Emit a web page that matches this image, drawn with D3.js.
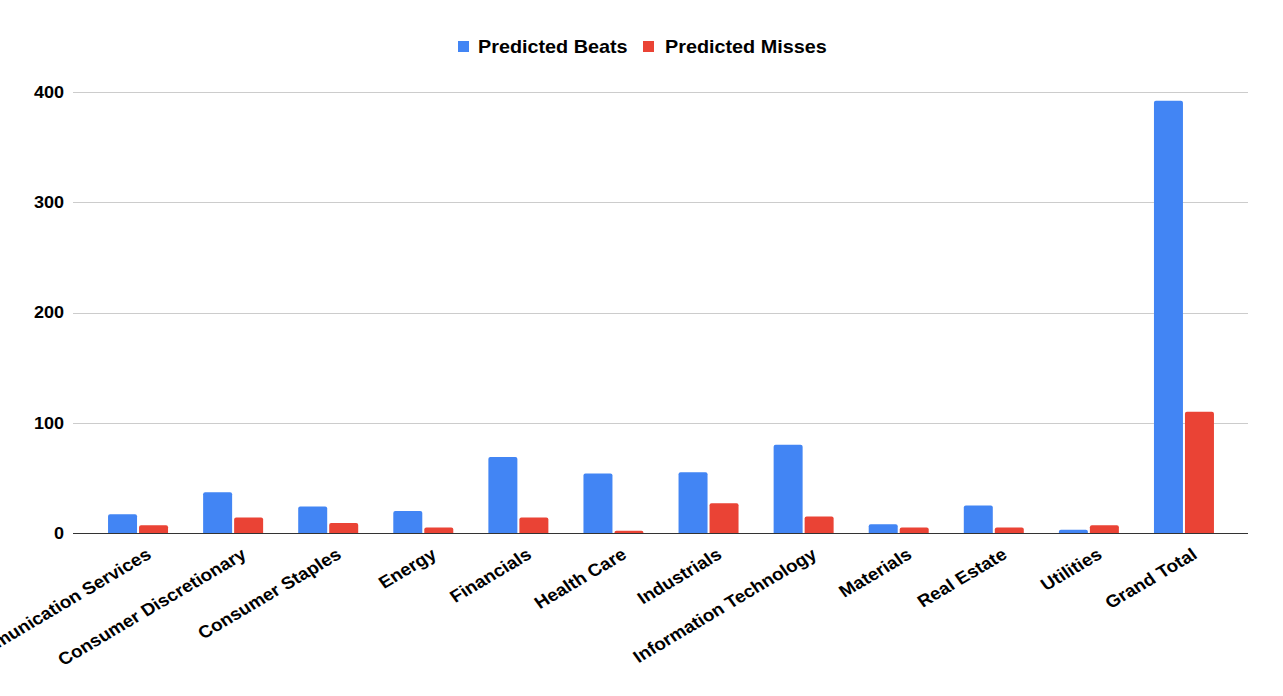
<!DOCTYPE html>
<html>
<head>
<meta charset="utf-8">
<script src="https://cdn.jsdelivr.net/npm/d3@7/dist/d3.min.js"></script>
<style>
  html, body { margin: 0; padding: 0; background: #fff; }
  svg { display: block; }
  text { font-family: "Liberation Sans", Arial, sans-serif; font-weight: bold; fill: #000; }
</style>
</head>
<body>
<svg id="chart" width="1283" height="696"></svg>
<script>
const categories = ["Communication Services", "Consumer Discretionary", "Consumer Staples", "Energy",
  "Financials", "Health Care", "Industrials", "Information Technology", "Materials",
  "Real Estate", "Utilities", "Grand Total"];
const seriesNames = ["Predicted Beats", "Predicted Misses"];
const predictedBeats = [17, 37, 24, 20, 69, 54, 55, 80, 8, 25, 3, 392];
const predictedMisses = [7, 14, 9, 5, 14, 2, 27, 15, 5, 5, 7, 110];
const yTicks = [0, 100, 200, 300, 400];
const colors = ["#4285F4", "#EA4335"];

const SX = 1.1; // horizontal text stretch seen in the reference

const svg = d3.select("#chart");
const plotLeft = 73, plotRight = 1248;

const y = d3.scaleLinear().domain([0, 400]).range([533, 92]);

const pIn = 1 - 60 / ((1231.5 - 90.5) / 12);
const x0 = d3.scaleBand().domain(categories).range([90.5, 1231.5])
  .paddingInner(pIn).paddingOuter(pIn / 2);
const x1 = d3.scaleBand().domain(seriesNames).range([0, x0.bandwidth()]).paddingInner(2 / 31);

// gridlines
const grid = svg.append("g");
grid.selectAll("line").data(yTicks.filter(d => d > 0)).enter().append("line")
  .attr("x1", plotLeft).attr("x2", plotRight)
  .attr("y1", d => Math.round(y(d)) + 0.5).attr("y2", d => Math.round(y(d)) + 0.5)
  .attr("stroke", "#cccccc").attr("stroke-width", 1);

// y tick labels
svg.append("g").selectAll("text").data(yTicks).enter().append("text")
  .attr("transform", d => `translate(64,${y(d)}) scale(${SX},1)`)
  .attr("text-anchor", "end")
  .attr("dy", "0.36em")
  .style("font-size", "16.4px")
  .text(d => d);

// bars
const data = categories.map((c, i) => ({ cat: c, vals: [predictedBeats[i], predictedMisses[i]] }));
function barPath(xl, w, yt, yb, r) {
  r = Math.min(r, (yb - yt), w / 2);
  return `M${xl},${yb}V${yt + r}Q${xl},${yt} ${xl + r},${yt}H${xl + w - r}Q${xl + w},${yt} ${xl + w},${yt + r}V${yb}Z`;
}
const groups = svg.append("g").selectAll("g").data(data).enter().append("g")
  .attr("transform", d => `translate(${x0(d.cat)},0)`);
groups.selectAll("path").data(d => d.vals.map((v, k) => ({ v, k }))).enter().append("path")
  .attr("d", d => barPath(x1(seriesNames[d.k]), x1.bandwidth(), y(d.v), y(0), 2))
  .attr("fill", d => colors[d.k]);

// baseline
svg.append("line").attr("x1", plotLeft).attr("x2", plotRight)
  .attr("y1", Math.round(y(0)) + 0.5).attr("y2", Math.round(y(0)) + 0.5)
  .attr("stroke", "#333333").attr("stroke-width", 1);

// x labels
svg.append("g").selectAll("text").data(categories).enter().append("text")
  .attr("transform", d => `translate(${x0(d) + x0.bandwidth() / 2 + 7},547) scale(${SX},1) rotate(-33)`)
  .attr("text-anchor", "end")
  .attr("dy", "0.72em")
  .style("font-size", "17.2px")
  .text(d => d);

// legend
const legendX = [458, 643];
const legendTextX = [478, 665];
const lg = svg.append("g");
seriesNames.forEach((s, i) => {
  lg.append("rect").attr("x", legendX[i]).attr("y", 41).attr("width", 11).attr("height", 11)
    .attr("fill", colors[i]);
  lg.append("text").attr("transform", `translate(${legendTextX[i]},53) scale(${SX},1)`)
    .style("font-size", "18px").text(s);
});
</script>
</body>
</html>
